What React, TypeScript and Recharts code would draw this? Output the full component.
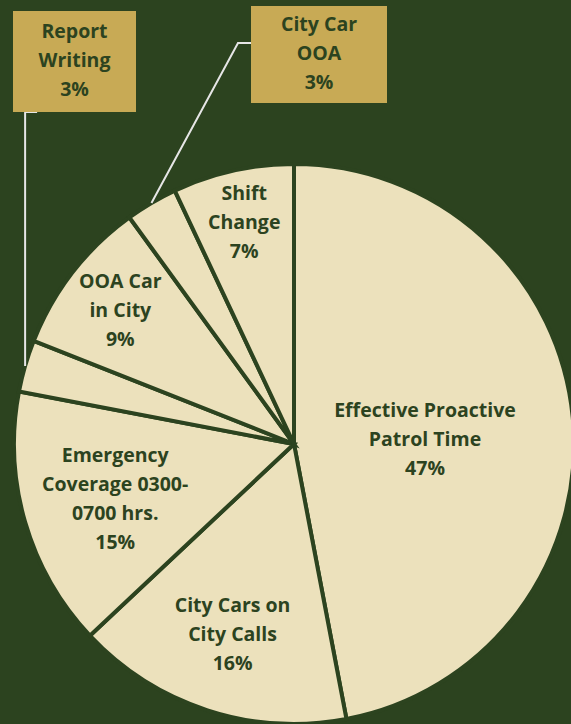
import React from 'react';
import { PieChart, Pie, Cell } from 'recharts';

// Slices in clockwise order, starting at 12 o'clock
const categories = [
  'Effective Proactive Patrol Time',
  'City Cars on City Calls',
  'Emergency Coverage 0300-0700 hrs.',
  'Report Writing',
  'OOA Car in City',
  'City Car OOA',
  'Shift Change',
];
const shares = [47, 16, 15, 3, 9, 3, 7];
const labelLines = [
  ['Effective Proactive', 'Patrol Time'],
  ['City Cars on', 'City Calls'],
  ['Emergency', 'Coverage 0300-', '0700 hrs.'],
  ['Report', 'Writing'],
  ['OOA Car', 'in City'],
  ['City Car', 'OOA'],
  ['Shift', 'Change'],
];

const BG = '#2c431f';
const SLICE = '#ece1bc';
const BOX = '#c8aa55';
const TEXT = '#2c431f';
const LEADER = '#e6e6e6';
const RADIAN = Math.PI / 180;

// label distance from centre (fraction of outer radius) and small nudges
const labelRadius = [0.47, 0.71, 0.665, 0, 0.785, 0, 0.815];
const labelNudge = [[0, 6], [0, 0], [0, 2], [0, 0], [0, 0], [0, 0], [0, 0]];
// callout boxes for the thin slices: [x, y, w, h]
const callouts: Record<number, number[]> = {
  3: [13, 11, 123, 101],
  5: [251, 6, 136, 97],
};

const data = categories.map((name, i) => ({ name, value: shares[i] }));

const LINE_H = 29;
const FONT = '"Open Sans", "Noto Sans", sans-serif';

const textBlock = (x: number, y: number, lines: string[], key?: string) => {
  const top = y - ((lines.length - 1) * LINE_H) / 2;
  return (
    <text
      key={key}
      x={x}
      y={top}
      textAnchor="middle"
      dominantBaseline="central"
      fill={TEXT}
      fontFamily={FONT}
      fontWeight={700}
      fontSize={19.5}
    >
      {lines.map((l, j) => (
        <tspan key={j} x={x} y={top + j * LINE_H} dominantBaseline="central">
          {l}
        </tspan>
      ))}
    </text>
  );
};

const renderLabel = (props: any) => {
  const { cx, cy, midAngle, outerRadius, index } = props;
  const lines = [...labelLines[index], `${shares[index]}%`];
  const box = callouts[index];
  if (box) {
    const [bx, by, bw, bh] = box;
    const ex = cx + outerRadius * Math.cos(-midAngle * RADIAN);
    const ey = cy + outerRadius * Math.sin(-midAngle * RADIAN);
    const pts =
      index === 3
        ? `${ex},${ey} ${ex},${by + bh} ${ex + 12},${by + bh}`
        : `${ex},${ey} ${bx - 13},${by + 37} ${bx},${by + 37}`;
    return (
      <g>
        <polyline points={pts} fill="none" stroke={LEADER} strokeWidth={2} />
        <rect x={bx} y={by} width={bw} height={bh} fill={BOX} />
        {textBlock(bx + bw / 2, by + bh / 2 - 3, lines)}
      </g>
    );
  }
  const r = outerRadius * labelRadius[index];
  const x = cx + r * Math.cos(-midAngle * RADIAN) + labelNudge[index][0];
  const y = cy + r * Math.sin(-midAngle * RADIAN) + labelNudge[index][1];
  return textBlock(x, y, lines);
};

export default function App() {
  return (
    <div
      style={{
        position: 'fixed',
        left: 0,
        top: 0,
        width: 571,
        height: 724,
        background: BG,
        overflow: 'hidden',
      }}
    >
      <PieChart width={571} height={724} margin={{ top: 0, right: 0, bottom: 0, left: 0 }}>
        <Pie
          data={data}
          dataKey="value"
          nameKey="name"
          cx={294}
          cy={444}
          outerRadius={280}
          startAngle={90}
          endAngle={-270}
          stroke={BG}
          strokeWidth={4}
          label={renderLabel}
          labelLine={false}
          isAnimationActive={false}
        >
          {data.map((d) => (
            <Cell key={d.name} fill={SLICE} />
          ))}
        </Pie>
      </PieChart>
    </div>
  );
}
